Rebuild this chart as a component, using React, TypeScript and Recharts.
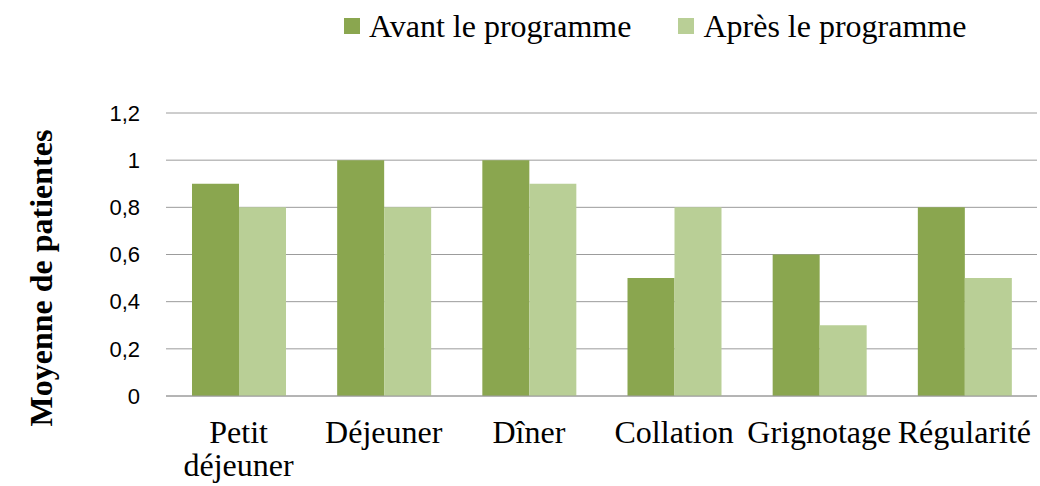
import { BarChart, Bar, XAxis, YAxis, CartesianGrid, Legend } from 'recharts'

const categories = ['Petit déjeuner', 'Déjeuner', 'Dîner', 'Collation', 'Grignotage', 'Régularité']
const avant = [0.9, 1, 1, 0.5, 0.6, 0.8]
const apres = [0.8, 0.8, 0.9, 0.8, 0.3, 0.5]
const yTicks = [0, 0.2, 0.4, 0.6, 0.8, 1, 1.2]

const COLORS = { avant: '#8aa64f', apres: '#b9cf96', grid: '#9c9c9c' }
const SERIF = '"Liberation Serif", "Times New Roman", serif'
const SANS = '"Liberation Sans", Arial, sans-serif'

const data = categories.map((name, i) => ({ name, avant: avant[i], apres: apres[i] }))

const fmt = (v: number) => String(v).replace('.', ',')

// category labels: one word per line, centered under the group
function CategoryTick({ x, y, payload }: any) {
  const words = String(payload.value).split(' ')
  return (
    <text x={x} y={y + 39} textAnchor="middle" fontFamily={SERIF} fontSize={32} fill="#000">
      {words.map((w, i) => (
        <tspan key={i} x={x} dy={i === 0 ? 0 : 33}>{w}</tspan>
      ))}
    </text>
  )
}

function LegendContent({ payload }: any) {
  const order = ['avant', 'apres']
  const items = [...payload].sort((a: any, b: any) => order.indexOf(a.dataKey) - order.indexOf(b.dataKey))
  return (
    <div style={{ display: 'flex', gap: 47, fontFamily: SERIF, fontSize: 32, lineHeight: '36px', color: '#000' }}>
      {items.map((p: any) => (
        <div key={p.value} style={{ display: 'flex', alignItems: 'center', whiteSpace: 'nowrap' }}>
          <span style={{ width: 16, height: 16, background: p.color, display: 'inline-block', marginRight: 9 }} />
          <span>{p.value}</span>
        </div>
      ))}
    </div>
  )
}

export default function App() {
  return (
    <div style={{ position: 'absolute', left: 0, top: 0, background: '#fff' }}>
      <BarChart
        width={1040}
        height={486}
        data={data}
        margin={{ top: 113, right: 3, left: 0, bottom: 60 }}
        barGap={0}
        barSize={47}
      >
        <CartesianGrid vertical={false} stroke={COLORS.grid} />
        <XAxis
          dataKey="name"
          height={30}
          tickLine={false}
          axisLine={{ stroke: COLORS.grid }}
          tick={<CategoryTick />}
          interval={0}
        />
        <YAxis
          width={166}
          domain={[0, 1.2]}
          ticks={yTicks}
          tickFormatter={fmt}
          axisLine={false}
          tickLine={false}
          tickSize={0}
          tickMargin={26}
          tick={{ fill: '#000', fontSize: 22, fontFamily: SANS }}
          label={{
            content: () => (
              <text
                x={41}
                y={278}
                transform="rotate(-90 41 278)"
                textAnchor="middle"
                dominantBaseline="central"
                fontFamily={SERIF}
                fontWeight="bold"
                fontSize={32}
                fill="#000"
              >
                Moyenne de patientes
              </text>
            ),
          }}
        />
        <Legend
          verticalAlign="middle"
          itemSorter={null}
          content={<LegendContent />}
          wrapperStyle={{ top: 8, left: 344, width: 'auto', height: 'auto' }}
        />
        <Bar dataKey="avant" name="Avant le programme" fill={COLORS.avant} isAnimationActive={false} />
        <Bar dataKey="apres" name="Après le programme" fill={COLORS.apres} isAnimationActive={false} />
      </BarChart>
    </div>
  )
}
